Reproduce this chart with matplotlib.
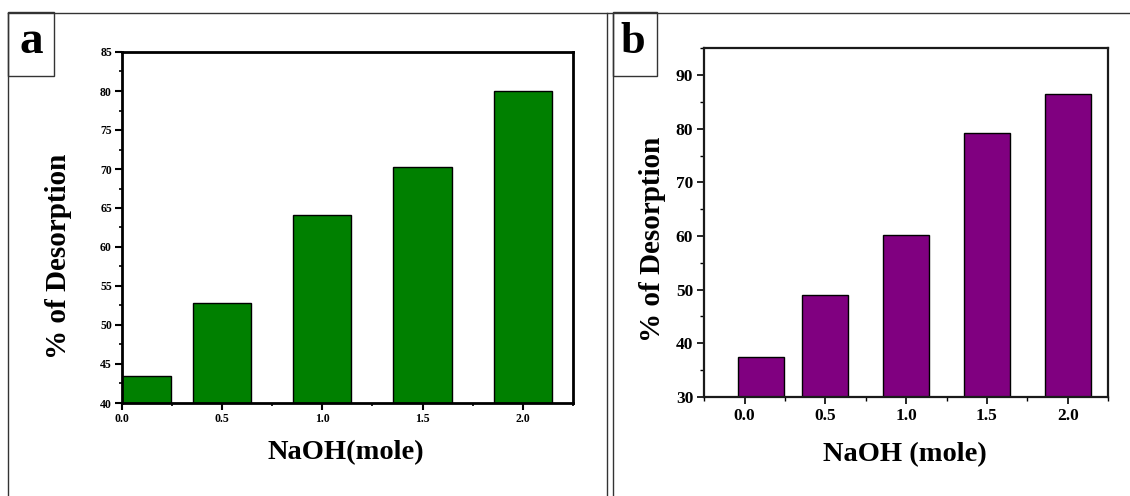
import matplotlib
matplotlib.use('Agg')
import matplotlib.pyplot as plt
from matplotlib.lines import Line2D
from matplotlib.patches import Rectangle
from matplotlib.ticker import MultipleLocator

plt.rcParams['font.family'] = ['Liberation Serif', 'DejaVu Serif']
plt.rcParams['font.weight'] = 'bold'

# data
naoh = [0.0, 0.5, 1.0, 1.5, 2.0]
desorption_a = [43.4, 52.8, 64.1, 70.2, 80.0]
desorption_b = [37.5, 48.9, 60.2, 79.2, 86.4]
xticks = [0.0, 0.5, 1.0, 1.5, 2.0]
xticklabels = ['0.0', '0.5', '1.0', '1.5', '2.0']

W, H = 1130, 496
fig = plt.figure(figsize=(W / 100, H / 100), dpi=100)


def fx(px):
    return px / W


def fy(py):
    return 1 - py / H


def frame_line(x0, y0, x1, y1):
    fig.add_artist(Line2D([fx(x0), fx(x1)], [fy(y0), fy(y1)], color='#333333', lw=1.0,
                          transform=fig.transFigure))


# panel frames
frame_line(7.5, 12.5, 1130, 12.5)
frame_line(7.5, 12.5, 7.5, 496)
frame_line(606.5, 12.5, 606.5, 496)
frame_line(612.7, 12.5, 612.7, 496)
for x0, x1 in [(7.5, 53.5), (612.7, 656.7)]:
    fig.add_artist(Rectangle((fx(x0), fy(75.5)), fx(x1) - fx(x0), fy(12.5) - fy(75.5),
                             fill=False, edgecolor='#333333', lw=1.0, transform=fig.transFigure))
fig.text(fx(31.5), fy(42), 'a', fontsize=34, fontweight='bold', ha='center', va='center')
fig.text(fx(632.5), fy(42), 'b', fontsize=32, fontweight='bold', ha='center', va='center')

# ---- panel a
axa = fig.add_axes([fx(121.7), fy(403), fx(573) - fx(121.7), fy(52) - fy(403)])
widths_a = [0.49, 0.29, 0.29, 0.29, 0.29]
axa.bar(naoh, desorption_a, width=widths_a, bottom=0, color='#008000', edgecolor='black', lw=1.0)
axa.set_xlim(0, 2.25)
axa.set_ylim(40, 85)
axa.yaxis.set_major_locator(MultipleLocator(5))
axa.yaxis.set_minor_locator(MultipleLocator(2.5))
axa.set_xticks(xticks)
axa.set_xticklabels(xticklabels)
axa.xaxis.set_minor_locator(MultipleLocator(0.25))
for s in axa.spines.values():
    s.set_linewidth(2.0)
axa.tick_params(which='major', direction='out', length=5, width=1.5, labelsize=8.5, pad=2)
axa.tick_params(which='minor', direction='out', length=2.5, width=1.2)
axa.tick_params(top=False, right=False, which='both')
for lab in axa.get_xticklabels() + axa.get_yticklabels():
    lab.set_fontweight('bold')
fig.text(fx(59), fy(256.5), '% of Desorption', rotation=90, fontsize=21, fontweight='bold',
         ha='center', va='center')
fig.text(fx(346), fy(453), 'NaOH(mole)', fontsize=20.5, fontweight='bold', ha='center', va='center')

# ---- panel b
axb = fig.add_axes([fx(704.3), fy(396.7), fx(1108) - fx(704.3), fy(48.3) - fy(396.7)])
widths_b = 0.285
pos_b = [naoh[0] + 0.1] + naoh[1:]
axb.bar(pos_b, desorption_b, width=widths_b, color='#800080', edgecolor='black', lw=1.0)
axb.set_xlim(-0.25, 2.25)
axb.set_ylim(30, 95)
axb.yaxis.set_major_locator(MultipleLocator(10))
axb.yaxis.set_minor_locator(MultipleLocator(5))
axb.set_xticks(xticks)
axb.set_xticklabels(xticklabels)
axb.xaxis.set_minor_locator(MultipleLocator(0.25))
for s in axb.spines.values():
    s.set_linewidth(1.6)
    s.set_color('#1a1a1a')
axb.tick_params(which='major', direction='out', length=5, width=1.2, labelsize=12.5, pad=3)
axb.tick_params(which='minor', direction='out', length=3, width=1.0)
axb.tick_params(top=False, right=False, which='both')
for lab in axb.get_xticklabels() + axb.get_yticklabels():
    lab.set_fontweight('bold')
fig.text(fx(652.7), fy(239), '% of Desorption', rotation=90, fontsize=21, fontweight='bold',
         ha='center', va='center')
fig.text(fx(905), fy(455), 'NaOH (mole)', fontsize=20.5, fontweight='bold', ha='center', va='center')

fig.savefig('out.png', dpi=100)
